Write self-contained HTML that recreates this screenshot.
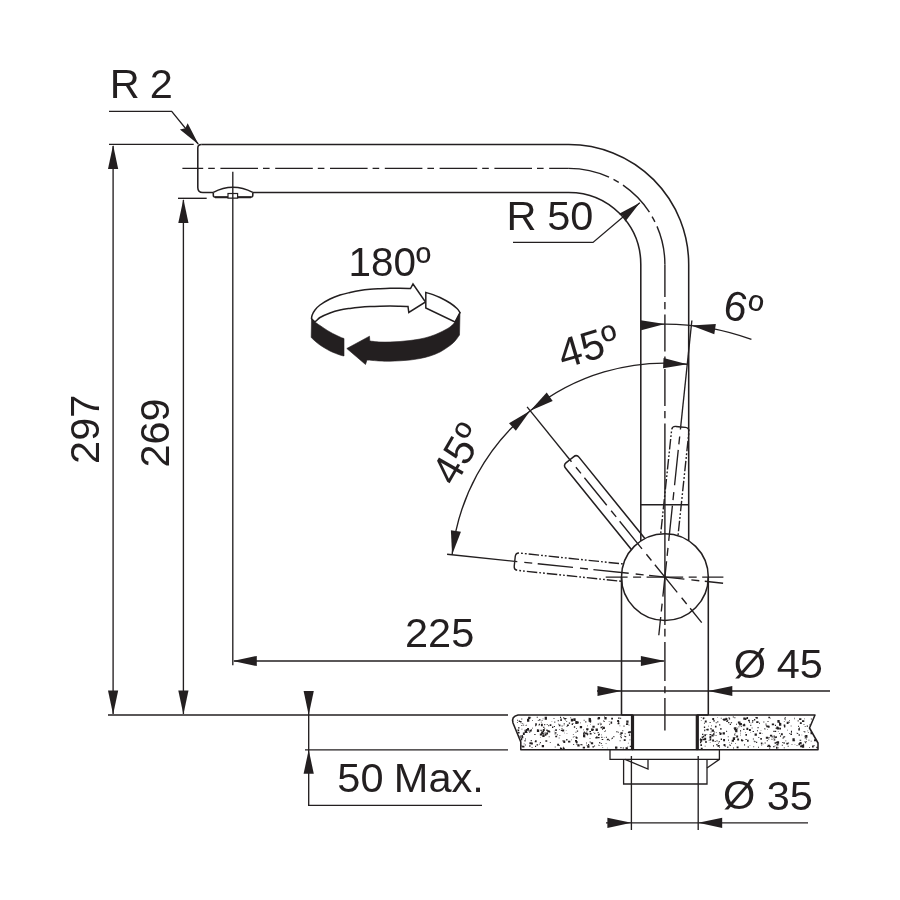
<!DOCTYPE html>
<html lang="en">
<head>
<meta charset="utf-8">
<title>Faucet dimension drawing</title>
<style>
html,body{margin:0;padding:0;background:#fff;}
body{width:900px;height:900px;overflow:hidden;}
svg{display:block;will-change:transform;}
svg text{font-family:"Liberation Sans",sans-serif;fill:#231f20;}
.o{fill:none;stroke:#231f20;stroke-width:1.55;stroke-linecap:butt;stroke-linejoin:round;}
.d{fill:none;stroke:#231f20;stroke-width:1.35;}
.n{fill:none;stroke:#231f20;stroke-width:1.3;stroke-linejoin:miter;}
.k{fill:none;stroke:#231f20;stroke-width:2;}
.k3{fill:none;stroke:#231f20;stroke-width:3.2;}
.c{fill:none;stroke:#231f20;stroke-width:1.4;}
.c2{fill:none;stroke:#231f20;stroke-width:1.35;stroke-dasharray:35.5 7 8 5.5;stroke-dashoffset:32.9;}
.ph{fill:none;stroke:#231f20;stroke-width:1.4;stroke-dasharray:10.5 2 1.8 2 1.8 2;}
.ar{fill:#231f20;stroke:none;}
.w{fill:#fff;stroke:#231f20;stroke-width:1.5;stroke-linejoin:miter;}
.b{fill:#231f20;stroke:#231f20;stroke-width:0.6;stroke-linejoin:miter;}
</style>
</head>
<body>
<svg width="900" height="900" viewBox="0 0 900 900">
<rect width="900" height="900" fill="#fff"/>
<path class="o" d="M 201.3 144.5 L 568.8 144.5 A 119.9 119.9 0 0 1 688.7 264.4 L 688.7 540.8"/>
<path class="o" d="M 201.3 144.5 Q 197.8 144.5 197.8 148 L 197.8 187.4 Q 197.8 192.4 202.8 192.4 L 213.3 192.4"/>
<path class="o" d="M 252.8 192.4 L 568.8 192.4 A 72 72 0 0 1 640.8 264.4 L 640.8 540.9"/>
<line class="o" x1="640.8" y1="504.7" x2="688.7" y2="504.7"/>
<path class="o" d="M 213.3 192.4 Q 232.8 182.2 252.8 192.4"/>
<path class="o" d="M 213.3 192.4 L 213.3 195.3 Q 213.3 197.3 215.6 197.3 L 250.5 197.3 Q 252.8 197.3 252.8 195.3 L 252.8 192.4"/>
<line class="k" x1="215" y1="197.2" x2="251" y2="197.2"/>
<rect x="228" y="193.5" width="9.6" height="4.6" fill="#fff" stroke="#231f20" stroke-width="1.2"/>
<circle class="o" cx="664.9" cy="577.1" r="43.4"/>
<line class="o" x1="621.5" y1="577.1" x2="621.5" y2="715"/>
<line class="o" x1="708.3" y1="577.1" x2="708.3" y2="715"/>
<path class="c" d="M 182.4 168.4 L 568.8 168.4" stroke-dasharray="37.6 5 6.6 5.6" stroke-dashoffset="16.8"/>
<path class="c" d="M 568.8 168.4 A 96.1 96.1 0 0 1 664.9 264.4" stroke-dasharray="41.5 5 6 5 38 5 6 5 60"/>
<path class="c" d="M 664.9 264.4 L 664.9 730.6" stroke-dasharray="32.6 5 7.3 5.2 37 5 7.3 5.2 37 5 7.3 5.2 201.4 3.9 7.7 5.5 38.9 5.4 7 4.7 40"/>
<path class="o" d="M 569.87 459.75 L 573.53 456.79 Q 576.63 454.28 579.15 457.38 L 644.9 538.58"/>
<path class="o" d="M 569.87 459.75 L 566.22 462.71 Q 563.11 465.23 565.63 468.33 L 631.38 549.53"/>
<path class="ph" d="M 680.68 426.93 L 685.36 427.42 Q 689.34 427.84 688.92 431.81 L 678 535.72" stroke-dasharray="20 2 1.8 2 1.8 2 10.5 2 1.8 2 1.8 2 10.5 2 1.8 2 1.8 2 10.5 2 1.8 2 1.8 2 10.5 2 1.8 2 1.8 2 10.5 2 1.8 2 1.8 2 10.5 2 1.8 2 1.8 2 10.5 2 1.8 2 1.8 2 10.5 2 1.8 2 1.8 2"/>
<path class="ph" d="M 680.68 426.93 L 676.01 426.44 Q 672.03 426.02 671.61 430 L 660.69 533.9" stroke-dasharray="20 2 1.8 2 1.8 2 10.5 2 1.8 2 1.8 2 10.5 2 1.8 2 1.8 2 10.5 2 1.8 2 1.8 2 10.5 2 1.8 2 1.8 2 10.5 2 1.8 2 1.8 2 10.5 2 1.8 2 1.8 2 10.5 2 1.8 2 1.8 2 10.5 2 1.8 2 1.8 2"/>
<path class="ph" d="M 514.73 561.32 L 515.22 556.64 Q 515.64 552.66 519.61 553.08 L 623.52 564" stroke-dasharray="20 2 1.8 2 1.8 2 10.5 2 1.8 2 1.8 2 10.5 2 1.8 2 1.8 2 10.5 2 1.8 2 1.8 2 10.5 2 1.8 2 1.8 2 10.5 2 1.8 2 1.8 2 10.5 2 1.8 2 1.8 2 10.5 2 1.8 2 1.8 2 10.5 2 1.8 2 1.8 2"/>
<path class="ph" d="M 514.73 561.32 L 514.24 565.99 Q 513.82 569.97 517.8 570.39 L 621.7 581.31" stroke-dasharray="20 2 1.8 2 1.8 2 10.5 2 1.8 2 1.8 2 10.5 2 1.8 2 1.8 2 10.5 2 1.8 2 1.8 2 10.5 2 1.8 2 1.8 2 10.5 2 1.8 2 1.8 2 10.5 2 1.8 2 1.8 2 10.5 2 1.8 2 1.8 2 10.5 2 1.8 2 1.8 2"/>
<line class="c2" x1="569.87" y1="459.75" x2="701.72" y2="622.56"/>
<line class="c2" x1="680.68" y1="426.93" x2="658.79" y2="635.28"/>
<line class="c2" x1="514.73" y1="561.32" x2="723.08" y2="583.21"/>
<line class="d" x1="569.87" y1="459.75" x2="527.08" y2="406.91"/>
<line class="d" x1="514.73" y1="561.32" x2="447.1" y2="554.21"/>
<line class="d" x1="680.68" y1="426.93" x2="691.87" y2="320.51"/>
<path class="c" d="M 605.7 577.1 L 723.4 577.1" stroke-dasharray="36.6 5.5 8 5.5" stroke-dashoffset="14.7"/>
<path class="d" d="M 530.23 410.79 A 214 214 0 0 1 687.27 364.27"/>
<polygon class="ar" points="530.23,410.79 546.71,392.62 552.68,400.89"/>
<polygon class="ar" points="687.27,364.27 663.05,368.2 663.55,358.01"/>
<path class="d" d="M 452.07 554.73 A 214 214 0 0 1 530.23 410.79"/>
<polygon class="ar" points="452.07,554.73 450.88,530.22 460.95,531.86"/>
<polygon class="ar" points="530.23,410.79 515.88,430.69 509.02,423.14"/>
<path class="d" d="M 641.09 325.22 A 253 253 0 0 1 751.43 339.36"/>
<polygon class="ar" points="664.9,324.1 641.17,330.33 640.69,320.14"/>
<polygon class="ar" points="691.35,325.49 715.84,324.08 714.3,334.16"/>
<path class="d" d="M 513 242.4 L 593 242.4 L 639.82 202.66"/>
<polygon class="ar" points="639.82,202.66 625.14,221.68 623.81,216.25 618.67,214.06"/>
<path class="d" d="M 109 111.4 L 171.7 111.4 L 198.2 144"/>
<polygon class="ar" points="198.6,144.6 179.9,129.52 185.35,128.3 187.66,123.21"/>
<line class="d" x1="109" y1="144.4" x2="193.7" y2="144.4"/>
<line class="d" x1="178" y1="198.3" x2="206.7" y2="198.3"/>
<line class="d" x1="113.1" y1="146" x2="113.1" y2="714"/>
<polygon class="ar" points="113.1,145 118.2,169 108,169"/>
<polygon class="ar" points="113.1,714.6 108,690.6 118.2,690.6"/>
<line class="d" x1="183.4" y1="200" x2="183.4" y2="714"/>
<polygon class="ar" points="183.4,199 188.5,223 178.3,223"/>
<polygon class="ar" points="183.4,714.6 178.3,690.6 188.5,690.6"/>
<line class="d" x1="232.8" y1="171.7" x2="232.8" y2="665.3"/>
<line class="d" x1="234" y1="661" x2="663.9" y2="661"/>
<polygon class="ar" points="232.8,661 256.8,655.9 256.8,666.1"/>
<polygon class="ar" points="664.9,661 640.9,666.1 640.9,655.9"/>
<line class="d" x1="108" y1="715" x2="508" y2="715"/>
<line class="d" x1="305" y1="749.8" x2="508" y2="749.8"/>
<path class="d" d="M 308.7 693 L 308.7 805.4 L 482 805.4"/>
<polygon class="ar" points="308.7,715 303.6,691 313.8,691"/>
<polygon class="ar" points="308.7,749.8 313.8,773.8 303.6,773.8"/>
<line class="d" x1="597" y1="691" x2="830" y2="691"/>
<polygon class="ar" points="621.5,691 597.5,696.1 597.5,685.9"/>
<polygon class="ar" points="708.3,691 732.3,685.9 732.3,696.1"/>
<line class="d" x1="606" y1="822.8" x2="808" y2="822.8"/>
<polygon class="ar" points="631.4,822.8 607.4,827.9 607.4,817.7"/>
<polygon class="ar" points="698.2,822.8 722.2,817.7 722.2,827.9"/>
<line class="d" x1="631.4" y1="756" x2="631.4" y2="830"/>
<line class="d" x1="698.2" y1="756" x2="698.2" y2="830"/>
<clipPath id="cl"><path d="M 518 715 Q 511 716.5 513 723 L 520.8 742 L 520.8 749.8 L 632.5 749.8 L 632.5 715 Z"/></clipPath><clipPath id="cr"><path d="M 697.3 715 L 815 715 L 809.5 728 L 818 743 L 818 749.8 L 697.3 749.8 Z"/></clipPath>
<g clip-path="url(#cl)">
<path fill="#231f20" d="M551.56 721.25h0.7v0.52h-0.7zM576.16 728.02h0.7v0.87h-0.7zM538.9 719.21h1.6v1.19h-1.6zM524.52 729.87h0.8v1.01h-0.8zM587.15 734.86h0.7v0.73h-0.7zM560.01 747.25h0.7v0.72h-0.7zM529.45 729.7h2.3v1.77h-2.3zM549.78 742.21h0.9v0.69h-0.9zM580.26 722.42h0.8v0.82h-0.8zM521.28 718.38h1v1h-1zM575.68 740.98h1.9v2h-1.9zM566.57 725.94h0.9v1.01h-0.9zM542.32 734.59h2.3v2.29h-2.3zM553.84 730.64h0.8v0.62h-0.8zM562.5 740.35h0.9v1.13h-0.9zM562.92 746.8h0.8v0.93h-0.8zM580.47 744.08h1.3v1.18h-1.3zM554.62 732.15h1.9v1.41h-1.9zM524.86 725h0.8v0.59h-0.8zM595.37 736.88h1.9v1.65h-1.9zM558.75 737.56h0.7v0.89h-0.7zM555.23 735.74h1.9v1.4h-1.9zM603.12 720.57h1v0.94h-1zM620.35 732.14h0.9v0.87h-0.9zM577.74 744.33h1.6v1.95h-1.6zM546.3 729.58h1.3v1.44h-1.3zM558.13 723.77h0.8v0.64h-0.8zM540.91 723.85h1.9v2.28h-1.9zM535.15 725.38h0.9v0.86h-0.9zM556.83 734.34h0.9v1h-0.9zM573.8 735.95h0.7v0.68h-0.7zM615.03 746.48h2.3v2.15h-2.3zM560.28 719.76h1.6v1.18h-1.6zM521.81 723.08h0.9v0.69h-0.9zM583.68 719.72h0.9v0.92h-0.9zM624.08 735.83h0.8v0.98h-0.8zM585.23 721.18h1.1v1.4h-1.1zM583.86 731.44h0.8v0.97h-0.8zM629.2 731.18h1.9v1.69h-1.9zM530.72 740.11h1.1v1.09h-1.1zM594.28 732.76h1v1.27h-1zM575.28 721.12h2.3v2.87h-2.3zM601.94 725.89h0.8v0.89h-0.8zM544.29 728.05h0.9v0.82h-0.9zM539.84 733.56h2.3v2.06h-2.3zM539.87 742.06h1v1.18h-1zM608.93 739.81h1v0.82h-1zM571.16 739.53h0.7v0.82h-0.7zM568.78 722.6h1.3v1.26h-1.3zM622.69 747.62h1.3v0.97h-1.3zM525.85 731.31h1.3v1.07h-1.3zM586.39 744.86h0.7v0.69h-0.7zM589.75 741.69h0.8v0.96h-0.8zM527.91 728.74h1v0.99h-1zM534.71 741.36h1.3v0.98h-1.3zM623.76 739.24h1.9v1.79h-1.9zM623.83 739.33h0.9v1.17h-0.9zM517.2 735.11h1.9v2.25h-1.9zM530.96 742.54h1.9v2.08h-1.9zM554.65 733.78h0.9v0.64h-0.9zM606.73 739.38h0.8v0.81h-0.8zM622.3 730.16h1v1.2h-1zM538.48 724.43h1.1v1.1h-1.1zM602.59 726.77h2.3v2.19h-2.3zM529.2 745.17h1.3v1.61h-1.3zM590.85 742.17h2.3v2.19h-2.3zM620.46 732.3h2.3v1.82h-2.3zM573.22 743.99h0.9v0.96h-0.9zM604.02 721.22h0.9v0.89h-0.9zM598.12 734.03h1.3v1.44h-1.3zM575.56 731.7h0.8v0.98h-0.8zM520.59 722.53h0.7v0.81h-0.7zM572.89 734.19h0.8v0.77h-0.8zM585.05 732.42h2.3v1.89h-2.3zM546.15 732.51h1.9v1.91h-1.9zM542.73 732.98h1.1v1.38h-1.1zM617.56 722.88h1.9v1.49h-1.9zM528.11 730.43h0.8v0.88h-0.8zM563.69 723.2h1.1v1.29h-1.1zM618.06 721.37h1.3v1.02h-1.3zM616.41 746.98h1v1.15h-1zM524.92 744.38h0.9v1.16h-0.9zM610.56 721.59h1.6v2.07h-1.6zM560.84 729.77h1.3v1.16h-1.3zM597.77 717.11h2.3v2.24h-2.3zM595.57 728.61h2.3v2.47h-2.3zM573.42 718.53h1v1.28h-1zM526.15 724.87h0.7v0.87h-0.7zM535.06 740.31h1.6v1.94h-1.6zM592.41 746.3h1.6v1.26h-1.6zM620.62 734.47h1.3v0.98h-1.3zM520.67 738.18h1.6v1.98h-1.6zM545.2 717.03h0.8v0.94h-0.8zM523.71 743.47h0.8v0.69h-0.8zM528.11 716.86h2.3v2.19h-2.3zM620.19 736.08h0.7v0.71h-0.7zM541.66 719.95h0.9v0.77h-0.9zM535.01 745.87h1.1v1.12h-1.1zM537.88 730.54h0.9v0.78h-0.9zM607.23 747.83h0.7v0.5h-0.7zM599.04 733.86h1v1.01h-1zM542.5 730.58h1.6v1.75h-1.6zM577.33 744.49h2.3v2.03h-2.3zM538.96 723.73h1v1.2h-1zM595.98 736.53h1.6v2.07h-1.6zM627.9 742.87h0.7v0.52h-0.7zM599.94 724.55h0.9v0.66h-0.9zM591.17 728.5h2.3v2.54h-2.3zM546.7 724.13h1.1v0.8h-1.1zM535.5 724.97h0.7v0.6h-0.7zM625.57 747.14h2.3v2.06h-2.3zM518 744.3h1v0.91h-1zM514.12 728.52h1.9v1.65h-1.9zM590.1 724.32h0.7v0.53h-0.7zM608.78 721.03h0.7v0.66h-0.7zM548.76 736.33h0.8v0.84h-0.8zM575.39 740.14h1.6v1.85h-1.6zM597.6 732.07h1.1v1.25h-1.1zM588.61 717.88h2.3v2.48h-2.3zM599.13 742.08h0.9v1.12h-0.9zM601.33 734.41h0.7v0.84h-0.7zM581.75 744.62h1v0.75h-1zM518.86 736.57h0.8v0.74h-0.8zM566.36 718.1h0.7v0.75h-0.7zM592.96 731.91h0.7v0.68h-0.7zM522.13 745.87h2.3v1.74h-2.3zM575.01 739.99h1.9v1.62h-1.9zM522.64 724.87h1v0.84h-1zM589.39 731h1.6v1.19h-1.6zM619.61 725.55h0.7v0.75h-0.7zM588.56 718.94h0.9v0.81h-0.9zM589.58 738.33h0.9v0.64h-0.9zM521.04 724.97h0.8v0.89h-0.8zM592.38 725.66h2.3v2h-2.3zM568.04 740.67h2.3v1.88h-2.3zM627.46 745.99h0.7v0.61h-0.7zM522.87 732.46h1.9v2.46h-1.9zM558.87 745.37h1v0.74h-1zM524.48 740.05h1.1v1.4h-1.1zM529.38 742.34h2.3v2h-2.3zM527.07 728h1.9v2.35h-1.9zM570.39 717.28h0.7v0.89h-0.7zM593.06 729.27h0.9v0.85h-0.9zM557.63 720.31h1.3v0.91h-1.3zM601.09 742.93h0.8v1.01h-0.8zM536.71 716.87h1.1v0.94h-1.1zM521.54 728.79h0.8v0.73h-0.8zM563.65 725.17h0.7v0.61h-0.7zM519.99 737.35h0.9v0.76h-0.9zM544.82 732.6h1v1.16h-1zM605.08 729.97h0.7v0.83h-0.7zM587.18 745.27h2.3v2.37h-2.3zM597.47 718.06h1.6v1.55h-1.6zM601.31 736.8h1.1v1.09h-1.1zM619.78 733.83h0.9v0.88h-0.9zM553.86 725.88h1.1v1.04h-1.1zM541.69 731.72h1.6v1.23h-1.6zM588.61 718.87h2.3v2.86h-2.3zM571.66 723.43h1.3v1.69h-1.3zM566.2 720.9h1v0.85h-1zM534.26 734.01h1.3v1.1h-1.3zM543.97 734.44h0.7v0.8h-0.7zM561.88 729.54h2.3v1.9h-2.3zM545.35 740.19h1.9v1.65h-1.9zM626.25 720.47h2.3v2.34h-2.3zM605.68 743.23h0.8v0.69h-0.8zM542.82 729.09h1.9v1.82h-1.9zM550.19 742.15h0.7v0.54h-0.7zM563.32 740.56h1.9v2.43h-1.9zM570.82 718.8h2.3v2.79h-2.3zM626.78 724.33h0.8v0.67h-0.8zM531.64 747.11h0.8v1.01h-0.8zM597.72 736.89h1.9v1.43h-1.9zM604.12 716.54h0.9v0.76h-0.9zM620.71 736.83h1.1v1.41h-1.1zM586.67 733.14h1.6v1.79h-1.6zM527.01 718.72h2.3v2.91h-2.3zM536.24 724.72h0.7v0.49h-0.7zM548.98 731.01h1.3v1.41h-1.3zM616.52 731.47h1v1.03h-1zM517.4 729.47h1.1v0.81h-1.1zM536.52 744.37h1.6v1.2h-1.6zM540.43 729.87h1.3v1.09h-1.3zM517.96 727.15h1.6v1.47h-1.6zM559.98 716.71h1.1v1.26h-1.1zM572.57 722.96h1v0.89h-1zM609.12 723.77h1v0.86h-1zM617.16 719.93h1.9v2.03h-1.9zM617.99 731.78h0.7v0.89h-0.7zM530.98 728.89h1v0.71h-1zM583.15 729.58h0.7v0.57h-0.7zM566.16 738.93h1.3v1.48h-1.3zM629.71 745.85h1.3v1.06h-1.3zM589.69 733.03h1.9v1.37h-1.9zM591.07 728.43h1.3v1.68h-1.3zM565.32 719.93h0.8v0.69h-0.8zM554.77 746.6h0.8v0.83h-0.8zM602.02 728.47h1.1v1.31h-1.1zM564.16 718.05h1.9v1.55h-1.9zM576.82 730.56h1.3v1.19h-1.3zM618.05 717.45h1.6v1.36h-1.6zM586.55 729.25h1.6v1.15h-1.6zM521.26 745.48h1.1v0.9h-1.1zM521.29 735.58h1.3v1.12h-1.3zM625.09 735.93h1.1v1.26h-1.1zM593.99 745.61h1.1v0.77h-1.1zM601.66 745.37h0.8v0.57h-0.8zM541.13 731.47h1.9v2.42h-1.9zM558.84 724.41h1.6v1.9h-1.6zM529.39 732.14h0.7v0.83h-0.7zM599.66 742.42h0.9v0.96h-0.9zM552.02 726.57h1.3v1.52h-1.3zM583.1 732.62h1.6v1.84h-1.6zM542.69 718.54h0.7v0.69h-0.7zM577.18 721.56h1.6v1.97h-1.6zM628.59 724.84h0.8v0.66h-0.8zM562.84 747.64h1.9v1.53h-1.9zM529.42 731.02h1v1.15h-1zM612.25 737.43h0.8v0.93h-0.8zM548.1 725.3h1.1v1.02h-1.1zM599.62 722.77h1v0.81h-1zM541.32 725.36h1v0.9h-1zM559.94 747.76h2.3v2.34h-2.3zM589.36 719.67h1.9v2.46h-1.9zM525.87 731.46h1v1.2h-1zM620.07 717.77h1.1v0.92h-1.1zM519.85 735.42h1v1.26h-1zM557.18 743.78h1.9v2.02h-1.9zM603.9 737.44h0.7v0.53h-0.7zM583.15 736.03h1v0.72h-1zM553.44 717.89h1.1v0.8h-1.1zM598.94 745.29h0.7v0.83h-0.7zM561.44 728.21h1.1v0.82h-1.1zM517.65 732.11h1.9v1.4h-1.9zM525.76 728.95h2.3v1.82h-2.3zM575.94 737.07h1.6v1.79h-1.6zM561.54 725.42h1.1v1.05h-1.1zM519.96 739.98h1.3v1.23h-1.3zM516.11 740.65h1.3v1.41h-1.3zM559.32 729.26h0.7v0.67h-0.7zM532.16 720.08h0.8v0.75h-0.8zM616.41 731.02h0.9v0.7h-0.9zM520 720.99h1.6v1.21h-1.6zM586.17 728.18h2.3v1.85h-2.3zM554.36 721.6h0.9v1.13h-0.9zM526.62 731.95h1v0.88h-1zM611.13 717.87h1.9v1.69h-1.9zM584.49 736.55h0.8v0.99h-0.8zM585.96 742.47h0.9v0.98h-0.9zM613.36 736.06h1v1.2h-1zM535.22 723.37h1.6v2.02h-1.6zM532.15 727.82h0.9v0.76h-0.9zM598.09 744.76h0.7v0.86h-0.7zM611.73 737.68h1.3v1h-1.3zM583.54 733.83h1.1v1.2h-1.1zM549.75 724.35h1.6v1.75h-1.6zM565.83 730.31h0.7v0.49h-0.7zM628.39 731.16h1.9v2.2h-1.9zM604.48 730.94h0.9v1.07h-0.9zM560.44 718.61h1.3v1.25h-1.3zM524.64 730.42h2.3v2.52h-2.3zM518.72 720.6h1.3v1.52h-1.3zM573.33 718.21h2.3v2.84h-2.3zM589.72 741.2h0.7v0.85h-0.7zM629.55 739.56h0.8v0.65h-0.8zM627.88 731.99h0.9v1h-0.9zM597.65 723.47h1.3v1.39h-1.3zM543.26 726.7h1.1v1.37h-1.1zM566.94 724.51h1.9v1.57h-1.9zM544.49 732.44h1.3v1.2h-1.3zM537.08 729.21h1.1v1.22h-1.1zM617.87 721.82h1.1v0.85h-1.1zM575.56 736.54h1.3v1.66h-1.3zM566.55 732.93h0.8v0.68h-0.8zM576.14 743.48h1.3v1.12h-1.3zM628.9 734.69h1.3v1.17h-1.3zM523.44 723.75h0.7v0.61h-0.7zM573.87 726.27h1.3v1.48h-1.3zM600.67 723.48h1.1v1.18h-1.1zM564.14 732.65h0.7v0.55h-0.7zM540.36 737.07h0.7v0.51h-0.7zM579.79 726.07h2.3v2.1h-2.3zM540.01 734.88h0.9v0.74h-0.9zM586.38 731.46h0.9v0.64h-0.9zM606.97 738.79h1.9v1.44h-1.9zM588.03 743.95h1.1v1.04h-1.1zM544.65 716.86h2.3v2.84h-2.3zM582.99 734.72h2.3v2.62h-2.3zM542.83 744.96h0.7v0.52h-0.7zM516.93 722.35h0.9v0.66h-0.9zM604.35 716.89h2.3v2.52h-2.3zM536.88 729.52h2.3v2.45h-2.3zM572.81 736.71h0.9v0.9h-0.9zM521.4 736.22h1.9v2.15h-1.9zM514.74 743.1h1.9v1.42h-1.9zM590.04 722.02h0.8v0.69h-0.8zM588.71 720.38h1.1v1.24h-1.1zM544.85 733.94h1.6v1.78h-1.6zM620.4 747.11h1.1v1.19h-1.1zM625.96 723.34h2.3v1.63h-2.3zM544.2 723.94h1v1.27h-1zM600.55 726.8h1.6v1.44h-1.6zM541.74 745.09h2.3v2.26h-2.3zM611.41 738.47h0.7v0.67h-0.7zM598.06 734.47h1.1v1.29h-1.1zM559.42 734.94h0.9v0.71h-0.9zM517.12 719.86h0.9v0.82h-0.9zM530.45 717.41h0.7v0.55h-0.7zM588.65 717.84h0.8v0.91h-0.8zM521.63 735.1h1.3v1.07h-1.3zM624.73 733.32h0.8v0.98h-0.8zM601.67 738.9h1.6v1.22h-1.6zM537.86 720.03h0.7v0.89h-0.7zM619.69 740.24h0.8v0.96h-0.8zM587.26 725.55h0.8v0.62h-0.8zM605.87 736.86h1.1v0.98h-1.1zM563.16 717.16h1.1v1.38h-1.1zM519.62 740.44h1.3v1.51h-1.3zM583.83 731.5h1.1v1.18h-1.1zM517.59 729.51h1.6v1.62h-1.6zM525.4 731.27h0.7v0.72h-0.7zM539.12 743.66h0.8v0.84h-0.8zM547.3 730.24h2.3v1.89h-2.3zM602.41 747.3h0.7v0.64h-0.7zM525.1 738.4h0.9v1.15h-0.9zM582.74 746.65h2.3v1.97h-2.3zM623.49 725.44h1v1.26h-1zM540.86 721.72h0.8v0.8h-0.8zM628.97 734.18h0.8v0.86h-0.8zM555.25 729.14h1.6v1.98h-1.6z"/>
</g>
<g clip-path="url(#cr)">
<path fill="#231f20" d="M787.06 729.8h0.7v0.65h-0.7zM735.12 729.98h2.3v2.3h-2.3zM744.07 744.35h1v1.27h-1zM714.41 735.21h0.7v0.64h-0.7zM737.88 721.39h1.9v2.08h-1.9zM786.68 721.84h1.9v2.12h-1.9zM729.72 723.78h1.3v1.27h-1.3zM803.5 724h1v0.86h-1zM788.18 742.54h0.9v1.02h-0.9zM814.04 739.28h2.3v2.09h-2.3zM727.26 746.61h1.1v1.41h-1.1zM785.13 719.71h0.8v0.65h-0.8zM717.24 721.17h1.1v1.25h-1.1zM750.6 722.68h0.8v0.69h-0.8zM803.52 731.11h0.7v0.66h-0.7zM792.44 738.34h2.3v2.96h-2.3zM734.31 717.2h1.1v1.17h-1.1zM747.05 739.84h1.6v1.79h-1.6zM768.52 736.89h1v1.1h-1zM776.17 744.14h1v1.11h-1zM774.88 730.8h1.3v1.11h-1.3zM781.83 744.68h1v1.17h-1zM783.3 736.33h1.1v1.33h-1.1zM756.22 717.12h1.6v1.62h-1.6zM777.18 744h1.3v1.52h-1.3zM745.17 731.93h0.8v0.58h-0.8zM763.34 721.57h1v1.01h-1zM711.38 734.6h2.3v1.89h-2.3zM755.4 717.01h1.3v1.32h-1.3zM747.72 746.36h1v1.29h-1zM721.1 732.68h0.8v0.91h-0.8zM771.65 736.58h1.1v0.95h-1.1zM746.46 716.92h1.6v2h-1.6zM773.36 737.76h1.1v0.84h-1.1zM735.16 729.12h2.3v2.95h-2.3zM816.32 746.77h1.9v1.57h-1.9zM714.69 740.96h1v0.98h-1zM765.54 723.62h0.9v0.82h-0.9zM774.56 742.29h1.6v1.57h-1.6zM734.09 733.77h0.9v1.05h-0.9zM754.65 741.18h1v0.86h-1zM743.7 724.49h1.6v1.77h-1.6zM756.08 741.87h1.1v1.01h-1.1zM776.39 726.59h1.9v1.82h-1.9zM774.38 737.27h1.3v1.03h-1.3zM735.12 728.63h0.8v0.96h-0.8zM805.93 741.2h0.9v0.92h-0.9zM740.06 734.85h0.7v0.58h-0.7zM707.96 725.73h0.8v0.84h-0.8zM799.87 722.35h1.9v1.72h-1.9zM717.44 744.98h2.3v1.84h-2.3zM804.21 735.66h0.8v0.88h-0.8zM804.53 741.32h1.1v0.9h-1.1zM780.9 733.22h1.9v2.1h-1.9zM713.25 720.23h1.6v1.34h-1.6zM715.87 732.03h0.7v0.69h-0.7zM805.89 738.56h1v1h-1zM762.9 743.68h0.7v0.56h-0.7zM737.18 738.42h1.9v2.09h-1.9zM798.27 728.31h1.6v2.08h-1.6zM778.92 722.19h1.3v1.41h-1.3zM702.85 735.7h1.3v1.54h-1.3zM710.54 731.75h0.9v0.65h-0.9zM783.89 736.2h1.3v0.98h-1.3zM776.94 727.25h2.3v2.37h-2.3zM806.7 725.45h1.3v1.24h-1.3zM764.6 742.54h1.1v1h-1.1zM757.51 727.01h1.1v1.35h-1.1zM740.02 722.91h1.9v2.23h-1.9zM738.38 726.49h1.1v0.85h-1.1zM813.8 719.26h0.7v0.66h-0.7zM764.63 729.29h0.7v0.66h-0.7zM712.25 717.96h1.9v2.02h-1.9zM776.82 741.35h2.3v2.45h-2.3zM771.96 736.24h0.8v0.66h-0.8zM777.87 730.92h0.9v0.68h-0.9zM720.8 717.66h0.8v1h-0.8zM776.55 728.12h0.9v1.05h-0.9zM765.55 724.63h1.1v0.89h-1.1zM703.52 717.14h0.7v0.7h-0.7zM760.85 742.48h1.6v1.67h-1.6zM807.44 730.56h0.7v0.78h-0.7zM769.28 747.78h0.9v0.89h-0.9zM747.96 719.71h1.9v1.57h-1.9zM717.33 716.99h0.7v0.49h-0.7zM778.15 747.58h0.8v0.66h-0.8zM713.76 731.38h1.1v1.24h-1.1zM727.97 739.61h0.9v1.13h-0.9zM742.49 740.04h0.9v1.02h-0.9zM709.4 736.3h1.9v1.86h-1.9zM809.05 724.5h0.7v0.79h-0.7zM700.84 716.96h0.8v0.75h-0.8zM736.22 735.4h1.9v2.02h-1.9zM736.66 746.39h1.9v1.87h-1.9zM719.06 746.94h0.8v0.73h-0.8zM775.27 736.34h1.6v1.58h-1.6zM790.93 730.76h1.1v1.29h-1.1zM766.1 725.71h0.7v0.75h-0.7zM775.99 741.76h1.3v1.59h-1.3zM784.77 716.99h0.9v0.95h-0.9zM735.76 730h1v0.93h-1zM779.97 735.46h1v1.18h-1zM732.79 716.55h1.1v0.95h-1.1zM717.98 745.5h0.7v0.61h-0.7zM716.03 744.55h0.9v0.78h-0.9zM799.51 741.92h1.9v1.73h-1.9zM709.49 733.94h1.6v1.31h-1.6zM787.65 745.85h1v0.89h-1zM706.26 728.96h1v1.26h-1zM768.4 716.8h1.6v1.56h-1.6zM709.8 741.91h0.8v0.67h-0.8zM767.6 744.75h2.3v2.05h-2.3zM758.97 722.86h1v0.82h-1zM720.73 738.58h1.3v1.36h-1.3zM741.67 741.06h0.9v0.76h-0.9zM807.91 732.04h0.8v0.74h-0.8zM753.95 719.07h1.3v1.38h-1.3zM740.03 732.86h0.7v0.53h-0.7zM723.55 743.93h1.9v2h-1.9zM724.6 745.65h1.1v1.05h-1.1zM810.71 740.67h0.9v0.77h-0.9zM703.95 722.83h0.9v0.83h-0.9zM702.73 717.6h1.3v1.59h-1.3zM753.35 746.34h0.8v0.97h-0.8zM774.68 745.55h0.8v0.68h-0.8zM765.83 736.68h2.3v2.15h-2.3zM752.18 721.53h1v1.3h-1zM725.55 717.72h1.1v1.39h-1.1zM706.47 733.91h0.7v0.84h-0.7zM705.03 741.27h1.9v1.39h-1.9zM716.51 740.28h1v1.11h-1zM734.61 735.13h0.8v0.79h-0.8zM743.17 728.79h1.3v1.29h-1.3zM719.31 724.01h0.9v1.12h-0.9zM804.33 731.24h1v1.18h-1zM717.94 742.73h0.8v1.01h-0.8zM801.34 744.49h0.9v1.05h-0.9zM812.06 745.67h1.6v1.93h-1.6zM773.33 730.75h1.3v1.16h-1.3zM726.98 720.14h1.3v1.02h-1.3zM725.54 718.29h1.9v1.96h-1.9zM716.5 743.93h1.1v1.05h-1.1zM728.49 717.3h1.1v0.99h-1.1zM719.22 731.97h1.3v1.27h-1.3zM756.19 721.33h2.3v1.69h-2.3zM804.67 737.55h1v1.04h-1zM797.65 720.25h1v1.28h-1zM750.27 724.74h1v1.26h-1zM710.96 725.62h0.9v0.66h-0.9zM784.86 725.75h0.7v0.68h-0.7zM759.17 732.59h1.9v1.33h-1.9zM797.29 733.09h0.9v0.82h-0.9zM704.26 729.38h1.1v1.15h-1.1zM715.72 722.17h1v1.13h-1zM722.61 719h0.8v0.99h-0.8zM785.37 740.48h0.9v0.74h-0.9zM771.46 738.79h1v1.05h-1zM723.27 718.57h2.3v2.17h-2.3zM784.29 718.24h1.3v1.17h-1.3zM798.42 743.73h1.9v1.43h-1.9zM747.62 740.53h0.9v1.1h-0.9zM730.79 722.36h1.3v0.94h-1.3zM782.02 734.61h0.7v0.64h-0.7zM809.02 747.02h0.8v0.62h-0.8zM783.46 742.22h1.3v1.52h-1.3zM801.5 734.65h0.7v0.61h-0.7zM712.15 739.52h1.9v1.92h-1.9zM761.83 733.43h0.7v0.59h-0.7zM709.91 736h0.9v0.69h-0.9zM728.93 742.24h0.7v0.5h-0.7zM808.34 739.77h1.1v0.78h-1.1zM769.93 734.66h2.3v1.94h-2.3zM751.69 727.55h0.8v0.9h-0.8zM704.81 720.38h1.9v2h-1.9zM788.98 719.97h0.8v0.75h-0.8zM715.59 735.14h1v0.79h-1zM766.81 740.02h0.9v1.14h-0.9zM701.67 736.5h1.6v1.69h-1.6zM770.33 717.64h0.7v0.82h-0.7zM739.28 724.07h1.3v1.47h-1.3zM798.56 734.28h1.3v1.55h-1.3zM799.1 718.19h2.3v1.81h-2.3zM779.42 727.63h1.6v1.76h-1.6zM700.86 719.93h0.9v0.67h-0.9zM750.38 732.4h0.7v0.58h-0.7zM748.94 729.01h1.9v2.05h-1.9zM794.59 744.36h0.7v0.5h-0.7zM774.88 724.87h1.1v1.18h-1.1zM794.24 717.63h0.8v0.68h-0.8zM760.64 730.16h0.7v0.61h-0.7zM735.39 736.9h0.8v0.59h-0.8zM812.19 745.51h1.1v0.83h-1.1zM768.85 745.86h1.9v1.47h-1.9zM714.94 725.75h1.6v1.67h-1.6zM731.71 739.68h2.3v2.01h-2.3zM752.86 738.39h1v1.09h-1zM723.14 738.88h1.9v2.35h-1.9zM735.18 731.55h1.1v0.79h-1.1zM738.71 722.45h2.3v2.14h-2.3zM768.32 716.87h1.3v1.04h-1.3zM811.37 726.7h1.3v1.29h-1.3zM732.97 747.61h1.1v0.81h-1.1zM702.06 733.86h1.3v1.25h-1.3zM706.79 728.72h1.9v1.73h-1.9zM789.13 732.91h0.9v0.86h-0.9zM778.02 720.92h1v1.07h-1zM799.37 742.37h2.3v1.74h-2.3zM800.11 745.54h1.9v1.64h-1.9zM773.6 736.41h0.9v0.85h-0.9zM711.64 729.43h2.3v2.42h-2.3zM758 746.83h0.9v0.86h-0.9zM791.58 743.99h0.8v0.74h-0.8zM752.64 730.92h1.3v1.14h-1.3zM745.41 733.99h1.6v1.74h-1.6zM700.29 739.99h1.9v1.76h-1.9zM734.75 733.41h0.9v0.87h-0.9zM743.8 723.81h1.3v1.16h-1.3zM798.6 742.9h1.3v1.07h-1.3zM749.61 745.18h0.7v0.5h-0.7zM729.64 744.72h1.1v1.38h-1.1zM790.38 733.46h1.6v1.62h-1.6zM760.28 738.08h1.6v1.57h-1.6zM704.28 737.8h1.9v2.41h-1.9zM778.99 733.05h0.8v0.76h-0.8zM758.36 736.93h0.9v1.11h-0.9zM812.83 731.83h1.9v2.2h-1.9zM805.15 735h2.3v2.64h-2.3zM710.34 727.93h1.3v1.67h-1.3zM796.56 732.65h0.8v0.87h-0.8zM734.15 727.32h2.3v2.84h-2.3zM748.95 721.43h1.1v1.31h-1.1zM723.92 744.63h1.6v1.3h-1.6zM773.54 735.5h1.3v1.35h-1.3zM773.68 739.27h1.6v1.13h-1.6zM699.83 738.89h2.3v1.62h-2.3zM735.27 743.03h0.7v0.77h-0.7zM722.61 732.18h2.3v2.39h-2.3zM801.86 744.71h2.3v2.99h-2.3zM767 729.45h0.8v0.63h-0.8zM760.41 732.55h0.7v0.53h-0.7zM719.54 732.96h1.9v2.03h-1.9zM794.28 718.46h0.7v0.78h-0.7zM767.51 721.03h1v0.91h-1zM719.41 724.9h0.8v0.97h-0.8zM810.85 718.49h1v0.97h-1zM744.81 718.22h1.6v1.68h-1.6zM812.25 730.35h1v0.85h-1zM704.67 745.82h0.9v0.8h-0.9zM805.12 742.2h1.1v1.05h-1.1zM729.11 744.44h0.8v0.68h-0.8zM745.3 739.13h1v0.95h-1zM746.34 738.92h0.7v0.82h-0.7zM728.1 721.96h1.3v1.21h-1.3zM700.4 744.29h1.6v1.66h-1.6zM713 733.31h1.6v1.44h-1.6zM776.03 746.78h1.6v1.91h-1.6zM740.77 724.22h1v0.98h-1zM739.98 730.22h1.1v1.21h-1.1zM739.62 721.41h0.9v0.68h-0.9zM731.19 742.8h0.9v0.93h-0.9zM754.38 741.54h1v0.8h-1zM740.97 739.26h1.6v1.72h-1.6zM767.74 725.86h1.9v1.91h-1.9zM726.2 730.76h0.9v1.14h-0.9zM816.76 735.27h1.9v2h-1.9zM742.74 724.26h2.3v1.9h-2.3zM802.01 720.37h2.3v1.74h-2.3zM799.59 739.68h1.6v1.15h-1.6zM783.89 721.07h0.7v0.65h-0.7zM709.61 722.08h1v0.89h-1zM777.37 719.93h2.3v2.87h-2.3zM794.11 740.39h1v0.74h-1zM736.07 723.63h0.9v1.07h-0.9zM746.38 727.71h1.9v2.21h-1.9zM803.22 743.63h0.9v1.14h-0.9zM720.23 728.05h1.3v1.61h-1.3zM702.47 738.67h1.9v1.61h-1.9zM798.99 727.59h0.8v0.65h-0.8zM713.04 745.25h1v1.13h-1zM704.25 717.76h0.9v0.86h-0.9zM788.44 721.42h0.7v0.72h-0.7zM773.46 746.16h1v1.04h-1zM783.7 724.52h1.6v1.76h-1.6zM767.09 745.97h0.8v0.96h-0.8zM790.74 725.52h0.7v0.86h-0.7zM768.25 738.42h1v1.11h-1zM703.86 726.53h1.3v1.49h-1.3zM709.62 738.38h1.6v2.08h-1.6zM771.8 723.46h2.3v1.73h-2.3zM810.7 729.86h1.3v1.45h-1.3zM786.29 742.64h1.9v1.91h-1.9zM779 722.99h2.3v2.78h-2.3zM790.94 731.92h1v0.73h-1zM782.07 741.88h1.1v0.89h-1.1zM718.73 741.1h1v1.03h-1zM728.84 718.37h1.3v1.18h-1.3zM710.37 736.55h0.9v0.7h-0.9zM782.57 737.62h1v1.12h-1zM700.19 738.28h0.9v1.14h-0.9zM740.8 725.93h0.9v0.95h-0.9zM727.79 736.33h0.8v0.82h-0.8zM788.86 721.83h0.9v0.95h-0.9zM753.69 740.63h1v0.77h-1zM733.5 727.86h1v0.73h-1zM804.76 726.07h0.8v0.9h-0.8zM752.14 720.06h1.3v1.26h-1.3zM766.38 725.62h2.3v1.71h-2.3zM700.77 747.75h1.9v1.43h-1.9zM783.76 747.38h1.1v0.84h-1.1zM756.94 730.18h1v1.17h-1zM737.31 727.82h0.8v0.87h-0.8zM773.26 745.96h1.1v1.2h-1.1zM708.68 740.04h0.7v0.82h-0.7zM798.15 725.83h0.9v1.15h-0.9zM761.24 744.71h0.9v0.69h-0.9zM783.97 726.28h1.3v1.21h-1.3zM775.56 727.72h1v0.92h-1zM764.26 728.13h1.1v0.93h-1.1zM704.35 734.36h1.6v1.99h-1.6zM810.53 732.07h1.9v2.16h-1.9zM816.49 735.48h0.8v0.63h-0.8zM726.23 720.86h1.6v1.21h-1.6zM704.19 730.34h1v0.83h-1zM743.27 717.51h2.3v2.2h-2.3zM732.78 737.34h2.3v2.59h-2.3zM804.15 718.48h0.7v0.77h-0.7zM796.56 744.98h0.9v0.83h-0.9zM699.99 741.83h1.3v1.35h-1.3zM754.59 733.6h2.3v2.25h-2.3zM813.63 745.12h0.9v1.16h-0.9z"/>
</g>
<path class="o" d="M 518 715 Q 511 716.5 513 723 L 520.8 742 L 520.8 749.8 L 632.5 749.8 L 632.5 715 Z"/>
<path class="o" d="M 697.3 715 L 815 715 L 809.5 728 L 818 743 L 818 749.8 L 697.3 749.8 Z"/>
<line class="k3" x1="632.5" y1="715" x2="632.5" y2="749.8"/>
<line class="k3" x1="697.3" y1="715" x2="697.3" y2="749.8"/>
<line class="o" x1="621.5" y1="715" x2="708.3" y2="715"/>
<line class="o" x1="632.5" y1="749.8" x2="697.3" y2="749.8"/>
<path class="n" d="M 610 749.8 L 610 759.4 L 719.4 759.4 L 719.4 749.8"/>
<path class="n" d="M 623.6 759.4 L 623.6 784 L 707 784 L 707 759.4"/>
<path class="n" d="M 625 759.4 L 648 769 L 648 759.4"/>
<path class="n" d="M 719.4 759.4 L 707 768"/>
<path class="w" d="M 311.5 318.5 C 311.62 317.92 311.62 316.42 312.2 315 C 312.78 313.58 313.7 311.67 315 310 C 316.3 308.33 317.5 306.83 320 305 C 322.5 303.17 326.67 300.67 330 299 C 333.33 297.33 336.67 296.08 340 295 C 343.33 293.92 346.67 293.25 350 292.5 C 353.33 291.75 356.67 291.03 360 290.5 C 363.33 289.97 366.67 289.6 370 289.3 C 373.33 289 376.67 288.87 380 288.7 C 383.33 288.53 386.67 288.37 390 288.3 C 393.33 288.23 396.58 288.25 400 288.3 C 403.42 288.35 408.75 288.55 410.5 288.6 L 413 284 L 425.5 302 L 408.8 312.5 L 408 306.5 L 408 306.5 C 406.67 306.45 403 306.28 400 306.2 C 397 306.12 393.33 306 390 306 C 386.67 306 383.33 306.1 380 306.2 C 376.67 306.3 373.33 306.42 370 306.6 C 366.67 306.78 363.33 307 360 307.3 C 356.67 307.6 353.33 307.95 350 308.4 C 346.67 308.85 343.33 309.23 340 310 C 336.67 310.77 333.33 311.75 330 313 C 326.67 314.25 322.5 316.08 320 317.5 C 317.5 318.92 316.42 321.33 315 321.5 C 313.58 321.67 312.08 319 311.5 318.5 Z"/>
<path class="w" d="M 425.8 292.5 C 427 292.85 430.63 293.77 433 294.6 C 435.37 295.43 437.17 296.1 440 297.5 C 442.83 298.9 447.17 301.17 450 303 C 452.83 304.83 455.33 306.92 457 308.5 C 458.67 310.08 459.5 311.83 460 312.5 L 455 322 L 425.8 308 Z"/>
<path class="b" d="M 460 312.5 L 455 322 L 455 322 C 454.17 322.83 452.5 325.25 450 327 C 447.5 328.75 443.33 330.92 440 332.5 C 436.67 334.08 433.33 335.42 430 336.5 C 426.67 337.58 423.33 338.33 420 339 C 416.67 339.67 413.33 340.08 410 340.5 C 406.67 340.92 403.33 341.25 400 341.5 C 396.67 341.75 393.33 341.92 390 342 C 386.67 342.08 383.37 342.17 380 342 C 376.63 341.83 371.5 341.17 369.8 341 L 369.5 336.2 L 346.8 348.5 L 365.5 364.5 L 367 360 L 367 360 C 369.17 360.17 376.17 360.8 380 361 C 383.83 361.2 386.67 361.23 390 361.2 C 393.33 361.17 396.67 361 400 360.8 C 403.33 360.6 406.67 360.38 410 360 C 413.33 359.62 416.67 359.17 420 358.5 C 423.33 357.83 426.67 357.08 430 356 C 433.33 354.92 436.67 353.75 440 352 C 443.33 350.25 447.5 347.33 450 345.5 C 452.5 343.67 453.42 342.75 455 341 C 456.58 339.25 458.75 336 459.5 335 Z"/>
<path class="b" d="M 311.5 318.5 C 312.08 319.08 313.58 320.83 315 322 C 316.42 323.17 317.5 323.83 320 325.5 C 322.5 327.17 326.67 330.08 330 332 C 333.33 333.92 337.67 335.92 340 337 C 342.33 338.08 343.33 338.25 344 338.5 L 344 356 C 343.33 355.83 342.33 355.83 340 355 C 337.67 354.17 333.33 352.67 330 351 C 326.67 349.33 322.5 346.67 320 345 C 317.5 343.33 316.47 342.25 315 341 C 313.53 339.75 311.83 338.08 311.2 337.5 Z"/>
<text font-size="41.5"><tspan x="109.65" y="97.8">R</tspan> <tspan x="149.78" y="97.8">2</tspan></text>
<text font-size="41.5"><tspan x="506.48" y="229.75">R</tspan> <tspan x="547.15" y="229.75">50</tspan></text>
<text transform="translate(348.43 276.35) scale(0.9750 1)" font-size="41.5">180º</text>
<text transform="translate(405.02 646.75)" font-size="41.5">225</text>
<text font-size="41.5"><tspan x="733.65" y="677.8">Ø</tspan> <tspan x="776.68" y="677.9">45</tspan></text>
<text font-size="41.5"><tspan x="723.1" y="809.15">Ø</tspan> <tspan x="766.7" y="809.55">35</tspan></text>
<text font-size="41.5"><tspan x="337.33" y="792.05">50</tspan> <tspan x="393.85" y="792">Max.</tspan></text>
<text transform="translate(99.1 463.88) rotate(-90)" font-size="41.5">297</text>
<text transform="translate(168.95 467.6) rotate(-90)" font-size="41.5">269</text>
<text transform="translate(563.08 368.78) rotate(-16.5)" font-size="41.5">45º</text>
<text transform="translate(454.77 487.28) rotate(-60)" font-size="41.5">45º</text>
<text transform="translate(721.73 317.88) rotate(11)" font-size="41.5">6º</text>
</svg>
</body>
</html>
